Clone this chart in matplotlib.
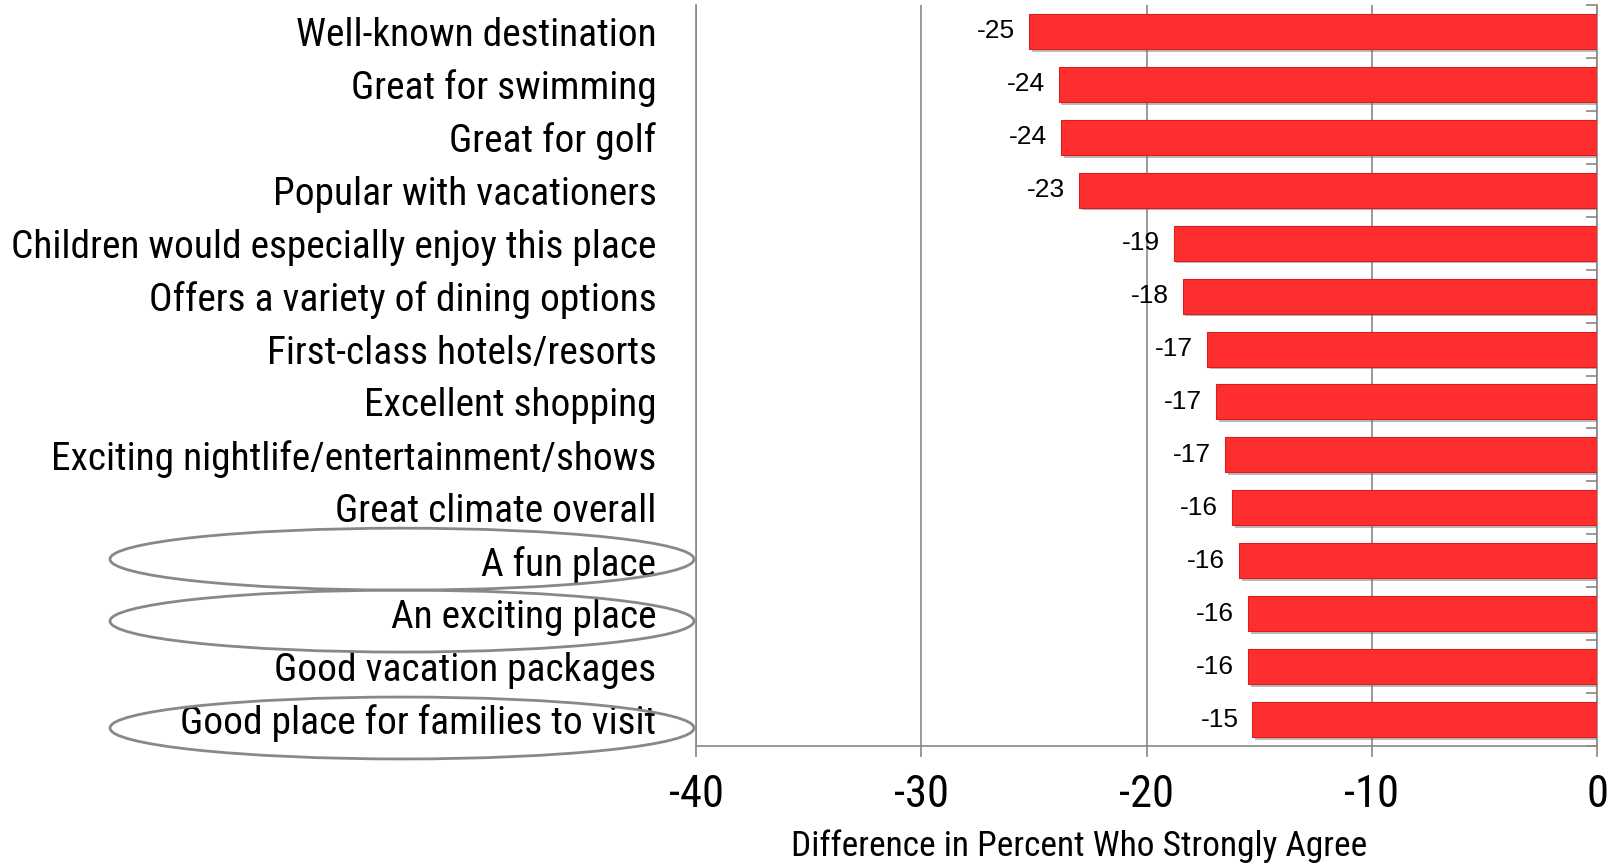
import numpy as np
import matplotlib
matplotlib.use("Agg")
import matplotlib.pyplot as plt
from matplotlib.patches import Ellipse
from matplotlib import transforms
from matplotlib import font_manager
import matplotlib.patheffects as pe

categories = [
    "Well-known destination",
    "Great for swimming",
    "Great for golf",
    "Popular with vacationers",
    "Children would especially enjoy this place",
    "Offers a variety of dining options",
    "First-class hotels/resorts",
    "Excellent shopping",
    "Exciting nightlife/entertainment/shows",
    "Great climate overall",
    "A fun place",
    "An exciting place",
    "Good vacation packages",
    "Good place for families to visit",
]
values = [-25.2, -23.9, -23.8, -23.0, -18.8, -18.4, -17.3, -16.9, -16.5, -16.2, -15.9, -15.5, -15.5, -15.3]
labels = ["-25", "-24", "-24", "-23", "-19", "-18", "-17", "-17", "-17", "-16", "-16", "-16", "-16", "-15"]
circled = ["A fun place", "An exciting place", "Good place for families to visit"]
xticks = [-40, -30, -20, -10, 0]
xlabel = "Difference in Percent Who Strongly Agree"

# layout (not data): vertical nudges of the hand-drawn ellipses, in category bands
ellipse_nudge = [-0.03, 0.14, 0.16]

available = {f.name for f in font_manager.fontManager.ttflist}
cand = ["Liberation Sans Narrow", "Arial Narrow", "Roboto Condensed", "Open Sans Condensed",
        "DejaVu Sans Condensed", "Noto Sans Condensed"]
narrow = [c for c in cand if c in available] + ["Liberation Sans", "DejaVu Sans"]
regular = ["Liberation Sans", "DejaVu Sans"]
is_narrow = narrow[0] not in ("Liberation Sans",)

W, H = 1617, 863
fig = plt.figure(figsize=(W / 100, H / 100), dpi=100)
ax = fig.add_axes([696 / W, 1 - 746 / H, (1597 - 696) / W, (746 - 5) / H])

y = np.arange(len(categories))
bars = ax.barh(y, values, height=0.66, color="#FF2E2E", edgecolor="#D42020", linewidth=0.8, zorder=3)
for b in bars:
    b.set_path_effects([pe.SimplePatchShadow(offset=(2, -2), shadow_rgbFace="#777777", alpha=0.5), pe.Normal()])

for yi, v, lab in zip(y, values, labels):
    ax.annotate(lab, (v, yi), xytext=(-10, 0), textcoords="offset points",
                ha="right", va="center", fontsize=19, family=regular, color="black", zorder=4)

cat_fs = 28.4 if is_narrow else 25
ax.set_xlim(-40, 0)
ax.set_ylim(len(categories) - 0.5, -0.5)
ax.set_xticks(xticks)
ax.set_xticklabels([str(t) for t in xticks], family=narrow, fontsize=32 if is_narrow else 28)
ax.set_yticks(y)
ax.set_yticklabels(categories, family=narrow, fontsize=cat_fs)
ax.tick_params(axis="y", which="major", left=False, right=False, pad=25)
ax.set_yticks(np.arange(-0.5, len(categories), 1), minor=True)
ax.tick_params(axis="y", which="minor", left=False, right=True, direction="in", length=8, color="#888888", width=1.2)
ax.tick_params(axis="x", which="major", direction="out", length=8, color="#888888", width=1.2, pad=12)

ax.grid(axis="x", color="#888888", linewidth=1.2, zorder=0)
ax.spines["top"].set_visible(False)
for s in ["left", "bottom", "right"]:
    ax.spines[s].set_color("#888888")
    ax.spines[s].set_linewidth(1.2)

fig.text(1079 / W, 1 - 846 / H, xlabel, ha="center", va="center",
         fontsize=25.5 if is_narrow else 22.5, family=narrow if is_narrow else regular)

trans = transforms.blended_transform_factory(fig.transFigure, ax.transData)
for name, dy in zip(circled, ellipse_nudge):
    i = categories.index(name)
    e = Ellipse(((110 + 694) / 2 / W, i + dy), (694 - 110) / W, 1.17, transform=trans,
                fill=False, edgecolor="#888888", linewidth=2, clip_on=False, zorder=5)
    fig.add_artist(e)

fig.savefig("out.png", dpi=100)
